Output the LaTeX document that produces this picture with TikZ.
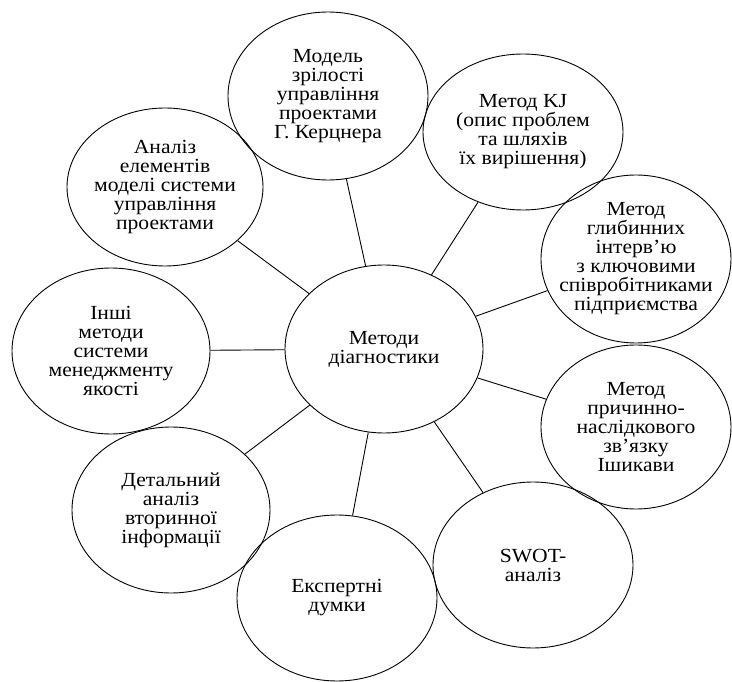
\documentclass[tikz,border=0pt]{standalone}
\usepackage{fontspec}
\setmainfont[FakeStretch=1.08]{Liberation Serif}
\usetikzlibrary{shapes.geometric}
\begin{document}
\begin{tikzpicture}[x=1pt,y=-1pt,
  bub/.style={draw, ellipse, line width=0.9pt, inner sep=-18pt, align=center,
    font=\fontsize{20}{19}\selectfont},
  link/.style={line width=0.9pt}]
\useasboundingbox (0,0) rectangle (732,682);
\node[bub, minimum width=198pt, minimum height=168pt] (c) at (384,349) {Методи\\діагностики};
\node[bub, minimum width=200pt, minimum height=168pt] (m) at (328,96) {Модель\\зрілості\\управління\\проектами\\Г. Керцнера};
\node[bub, minimum width=200pt, minimum height=156pt] (kj) at (523,132) {Метод KJ\\(опис проблем\\та шляхів\\їх вирішення)};
\node[bub, minimum width=190pt, minimum height=168pt] (g) at (636,259) {Метод\\глибинних\\інтерв’ю\\з ключовими\\співробітниками\\підприємства};
\node[bub, minimum width=190pt, minimum height=164pt] (p) at (636,427) {Метод\\причинно-\\наслідкового\\зв’язку\\Ішикави};
\node[bub, minimum width=200pt, minimum height=166pt] (s) at (533,565) {SWOT-\\аналіз};
\node[bub, minimum width=200pt, minimum height=166pt] (e) at (337,598) {Експертні\\думки};
\node[bub, minimum width=198pt, minimum height=166pt] (d) at (171,510) {Детальний\\аналіз\\вторинної\\інформації};
\node[bub, minimum width=198pt, minimum height=166pt] (i) at (111,351) {Інші\\методи\\системи\\менеджменту\\якості};
\node[bub, minimum width=196pt, minimum height=158pt] (a) at (165,187) {Аналіз\\елементів\\моделі системи\\управління\\проектами};
\foreach \n in {m,kj,g,p,s,e,d,i,a} \draw[link] (c) -- (\n);
\end{tikzpicture}
\end{document}
